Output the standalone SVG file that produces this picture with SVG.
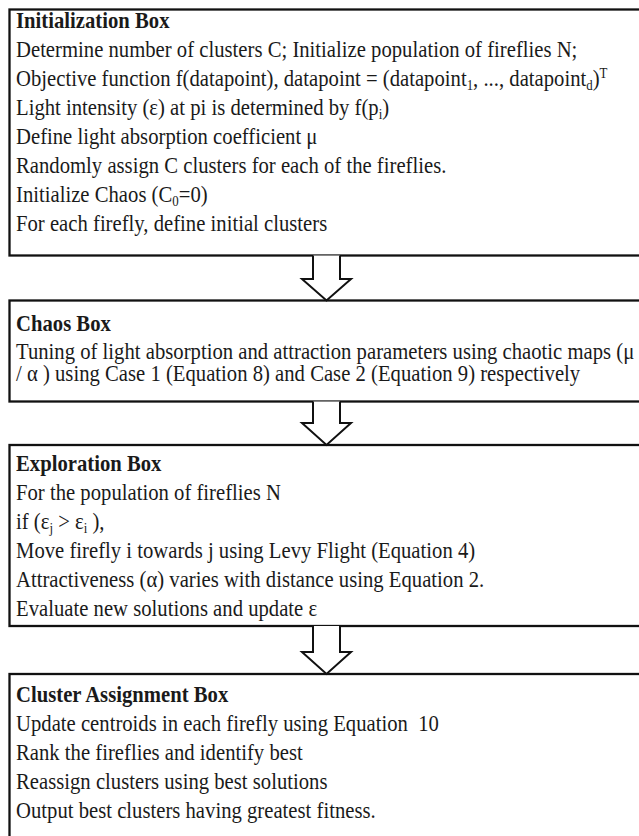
<svg xmlns="http://www.w3.org/2000/svg" width="639" height="836" viewBox="0 0 639 836">
<style>
  .box { fill: #ffffff; stroke: #111111; stroke-width: 2.3; }
  .arrow { fill: #ffffff; stroke: #111111; stroke-width: 2; stroke-linejoin: miter; }
  text { font-family: "Liberation Serif", "Times New Roman", serif; font-size: 22.5px; fill: #1a1a1a; }
  .title { font-weight: bold; }
  .sub { font-size: 14px; }
</style>
<rect x="0" y="0" width="639" height="836" fill="#ffffff"/>

<g id="initialization-box">
  <rect class="box" x="9.5" y="9.5" width="640" height="246"/>
  <g transform="translate(16,0) scale(0.92,1)">
    <text class="title" x="0" y="28">Initialization Box</text>
    <text x="0" y="57">Determine number of clusters C; Initialize population of fireflies N;</text>
    <text x="0" y="86">Objective function f(datapoint), datapoint = (datapoint<tspan class="sub" dy="4">1</tspan><tspan dy="-4">, ..., datapoint</tspan><tspan class="sub" dy="4">d</tspan><tspan dy="-4">)</tspan><tspan class="sub" dy="-8">T</tspan></text>
    <text x="0" y="115">Light intensity (ε) at pi is determined by f(p<tspan class="sub" dy="4">i</tspan><tspan dy="-4">)</tspan></text>
    <text x="0" y="144">Define light absorption coefficient μ</text>
    <text x="0" y="173">Randomly assign C clusters for each of the fireflies.</text>
    <text x="0" y="202">Initialize Chaos (C<tspan class="sub" dy="4">0</tspan><tspan dy="-4">=0)</tspan></text>
    <text x="0" y="231">For each firefly, define initial clusters</text>
  </g>
</g>

<g id="chaos-box">
  <rect class="box" x="9.5" y="300.5" width="640" height="101"/>
  <g transform="translate(16,0) scale(0.92,1)">
    <text class="title" x="0" y="331">Chaos Box</text>
    <text x="0" y="359">Tuning of light absorption and attraction parameters using chaotic maps (μ</text>
    <text x="0" y="381">/ α ) using Case 1 (Equation 8) and Case 2 (Equation 9) respectively</text>
  </g>
</g>

<g id="exploration-box">
  <rect class="box" x="9.5" y="445" width="640" height="181"/>
  <g transform="translate(16,0) scale(0.92,1)">
    <text class="title" x="0" y="471">Exploration Box</text>
    <text x="0" y="500">For the population of fireflies N</text>
    <text x="0" y="529">if (ε<tspan class="sub" dy="4">j</tspan><tspan dy="-4"> &gt; ε</tspan><tspan class="sub" dy="4">i</tspan><tspan dy="-4"> ),</tspan></text>
    <text x="0" y="558">Move firefly i towards j using Levy Flight (Equation 4)</text>
    <text x="0" y="587">Attractiveness (α) varies with distance using Equation 2.</text>
    <text x="0" y="616">Evaluate new solutions and update ε</text>
  </g>
</g>

<g id="cluster-assignment-box">
  <rect class="box" x="9.5" y="674" width="640" height="180"/>
  <g transform="translate(16,0) scale(0.92,1)">
    <text class="title" x="0" y="702">Cluster Assignment Box</text>
    <text x="0" y="731">Update centroids in each firefly using Equation &#160;10</text>
    <text x="0" y="760">Rank the fireflies and identify best</text>
    <text x="0" y="789">Reassign clusters using best solutions</text>
    <text x="0" y="818">Output best clusters having greatest fitness.</text>
  </g>
</g>

<g id="connectors">
  <path class="arrow" d="M313,255.5 V279 H302 L326.5,300.5 L351,279 H340 V255.5"/>
  <path class="arrow" d="M313,401.5 V423 H302 L326.5,445 L351,423 H340 V401.5"/>
  <path class="arrow" d="M313,626 V652 H302 L326.5,674 L351,652 H340 V626"/>
</g>
</svg>
